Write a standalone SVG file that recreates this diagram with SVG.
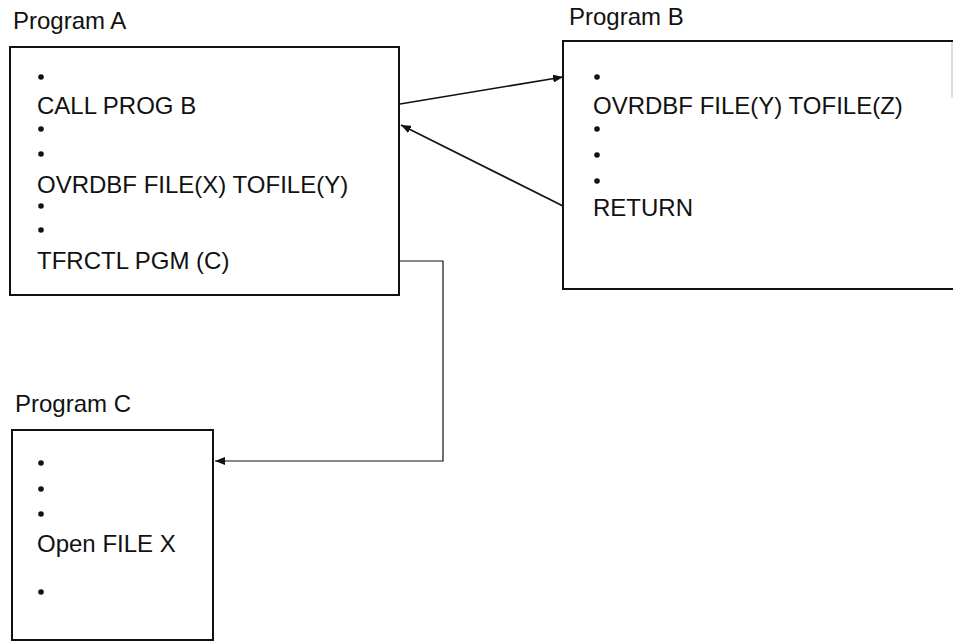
<svg xmlns="http://www.w3.org/2000/svg" width="953" height="641" viewBox="0 0 953 641">
  <style>
    .box { fill: none; stroke: #111; stroke-width: 2; }
    .title { font-family: "Liberation Sans", Arial, sans-serif; font-size: 24px; fill: #111; }
    .code { font-family: "Liberation Sans", Arial, sans-serif; font-size: 24px; fill: #111; }
    .dot { fill: #111; }
    .link { fill: none; stroke: #111; stroke-width: 1.6; }
    .thin { fill: none; stroke: #111; stroke-width: 1.2; }
  </style>
  <defs>
    <marker id="arrow" viewBox="0 0 10 8" refX="10" refY="4" markerWidth="10" markerHeight="8" markerUnits="userSpaceOnUse" orient="auto">
      <path d="M0,0 L10,4 L0,8 Z" fill="#111"/>
    </marker>
  </defs>
  <rect width="953" height="641" fill="#fff"/>

  <!-- Program A -->
  <g id="program-a">
    <text class="title" x="13" y="29">Program A</text>
    <rect class="box" x="10" y="47" width="389" height="248"/>
    <circle class="dot" cx="41" cy="77" r="2.8"/>
    <text class="code" x="37" y="114">CALL PROG B</text>
    <circle class="dot" cx="41" cy="129" r="2.8"/>
    <circle class="dot" cx="41" cy="154" r="2.8"/>
    <text class="code" x="37" y="193">OVRDBF FILE(X) TOFILE(Y)</text>
    <circle class="dot" cx="41" cy="206" r="2.8"/>
    <circle class="dot" cx="41" cy="230" r="2.8"/>
    <text class="code" x="37" y="269">TFRCTL PGM (C)</text>
  </g>

  <!-- Program B (right side runs past the edge) -->
  <g id="program-b">
    <text class="title" x="569" y="25">Program B</text>
    <path class="box" d="M955,41 H563 V289 H955"/>
    <line x1="952" y1="42" x2="952" y2="98" stroke="#bbb" stroke-width="1"/>
    <circle class="dot" cx="597" cy="77" r="2.8"/>
    <text class="code" x="593" y="114">OVRDBF FILE(Y) TOFILE(Z)</text>
    <circle class="dot" cx="597" cy="129" r="2.8"/>
    <circle class="dot" cx="597" cy="155" r="2.8"/>
    <circle class="dot" cx="597" cy="181" r="2.8"/>
    <text class="code" x="593" y="216">RETURN</text>
  </g>

  <!-- Program C -->
  <g id="program-c">
    <text class="title" x="15" y="412">Program C</text>
    <rect class="box" x="12" y="430" width="201" height="210"/>
    <circle class="dot" cx="41" cy="463" r="2.8"/>
    <circle class="dot" cx="41" cy="489" r="2.8"/>
    <circle class="dot" cx="41" cy="514" r="2.8"/>
    <text class="code" x="37" y="552">Open FILE X</text>
    <circle class="dot" cx="41" cy="592" r="2.8"/>
  </g>

  <!-- Connectors -->
  <g id="connectors">
    <line class="link" x1="400" y1="104" x2="563" y2="77" marker-end="url(#arrow)"/>
    <line class="link" x1="563" y1="206" x2="401" y2="125" marker-end="url(#arrow)"/>
    <path class="thin" d="M400,261 H443 V461 H215" marker-end="url(#arrow)"/>
  </g>
</svg>
